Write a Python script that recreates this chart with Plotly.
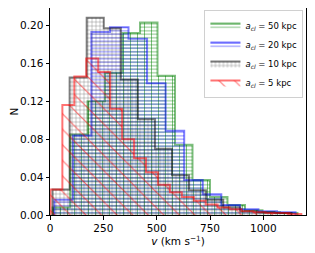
import numpy as np
import plotly.graph_objects as go

# ---- data (fraction of clouds per velocity bin) ----
LABELS = ["<i>a</i><sub><i>cl</i></sub> = 50 kpc", "<i>a</i><sub><i>cl</i></sub> = 20 kpc",
          "<i>a</i><sub><i>cl</i></sub> = 10 kpc", "<i>a</i><sub><i>cl</i></sub> = 5 kpc"]

# first bin edge and bin width (km/s) of each histogram
BIN_START = [12, 20, 12, 2]
BIN_WIDTH = [82, 87, 80, 56]

N_50 = [0.008, 0.085, 0.12, 0.15, 0.192, 0.203, 0.147, 0.074, 0.037, 0.019, 0.0105, 0.005, 0.003, 0.002]
N_20 = [0.016, 0.084, 0.193, 0.198, 0.186, 0.139, 0.089, 0.037, 0.022, 0.0105, 0.006, 0.004, 0.003]
N_10 = [0.027, 0.145, 0.208, 0.197, 0.143, 0.101, 0.070, 0.042, 0.026, 0.016, 0.008, 0.004, 0.003, 0.002]
N_5 = [0.027, 0.116, 0.146, 0.165, 0.151, 0.112, 0.080, 0.060, 0.045, 0.032, 0.024, 0.019, 0.015,
       0.011, 0.008, 0.006, 0.004, 0.003, 0.002, 0.002, 0.001]

X_TICKS = [0, 250, 500, 750, 1000]
Y_TICKS = [0.00, 0.04, 0.08, 0.12, 0.16, 0.20]

SERIES = [N_50, N_20, N_10, N_5]
COLORS = ["rgba(0,128,0,0.5)", "rgba(0,0,255,0.5)", "rgba(0,0,0,0.5)", "rgba(255,0,0,0.55)"]
PATTERNS = [("-", 3.5, 0.28), ("-", 3.5, 0.28), ("+", 4, 0.2), ("\\", 11, 0.1)]


def step_xy(start, width, h):
    edges = start + width * np.arange(len(h) + 1)
    xs = [edges[0]] + list(edges[:-1]) + [edges[-1], edges[-1]]
    ys = [0] + list(h) + [h[-1], 0]
    return xs, ys


fig = go.Figure()
for i, h in enumerate(SERIES):
    xs, ys = step_xy(BIN_START[i], BIN_WIDTH[i], h)
    shape, size, sol = PATTERNS[i]
    fig.add_trace(go.Scatter(
        x=xs, y=ys, mode="lines", line=dict(color=COLORS[i], width=2, shape="hv"),
        fill="tozeroy", fillcolor="rgba(0,0,0,0)",
        fillpattern=dict(shape=shape, size=size, solidity=sol, fgcolor=COLORS[i],
                         bgcolor="rgba(0,0,0,0)", fgopacity=1),
        name=LABELS[i], showlegend=True))
    if i == 0:
        fig.add_trace(go.Scatter(
            x=xs, y=ys, mode="lines", line=dict(color="rgba(0,0,0,0)", width=0, shape="hv"),
            fill="tozeroy", fillcolor="rgba(0,0,0,0)",
            fillpattern=dict(shape="|", size=7, solidity=0.15, fgcolor=COLORS[i],
                             bgcolor="rgba(0,0,0,0)", fgopacity=1),
            showlegend=False, hoverinfo="skip"))

font = dict(family="DejaVu Sans", size=10.5, color="black")
# the page adds an 8 px body margin, so the figure is made 8 px smaller
fig.update_layout(
    width=307, height=245,
    margin=dict(l=42, r=9, t=0, b=38, autoexpand=False),
    paper_bgcolor="white", plot_bgcolor="white",
    font=font,
    showlegend=True,
    legend=dict(x=0.99, y=0.99, xanchor="right", yanchor="top",
                bgcolor="rgba(255,255,255,0.8)", bordercolor="#d0d0d0", borderwidth=1,
                font=dict(family="DejaVu Sans", size=8.5), tracegroupgap=0,
                itemwidth=30, traceorder="normal"),
    xaxis=dict(range=[0, 1200], tickvals=X_TICKS, ticks="outside", ticklen=3.5, tickwidth=1,
               tickcolor="black", showline=True, linecolor="black", linewidth=1, mirror=True,
               showgrid=False, zeroline=False, automargin=False,
               title=dict(text="<i>v</i> (km s<sup>\u22121</sup>)", font=font, standoff=0)),
    yaxis=dict(range=[0, 0.2184], tickvals=Y_TICKS, tickformat=".2f", ticks="outside",
               ticklen=3.5, tickwidth=1, tickcolor="black", showline=True, linecolor="black",
               linewidth=1, mirror=True, showgrid=False, zeroline=False, automargin=False,
               title=dict(text="N", font=font, standoff=9)),
)

fig.write_html("out.html")
